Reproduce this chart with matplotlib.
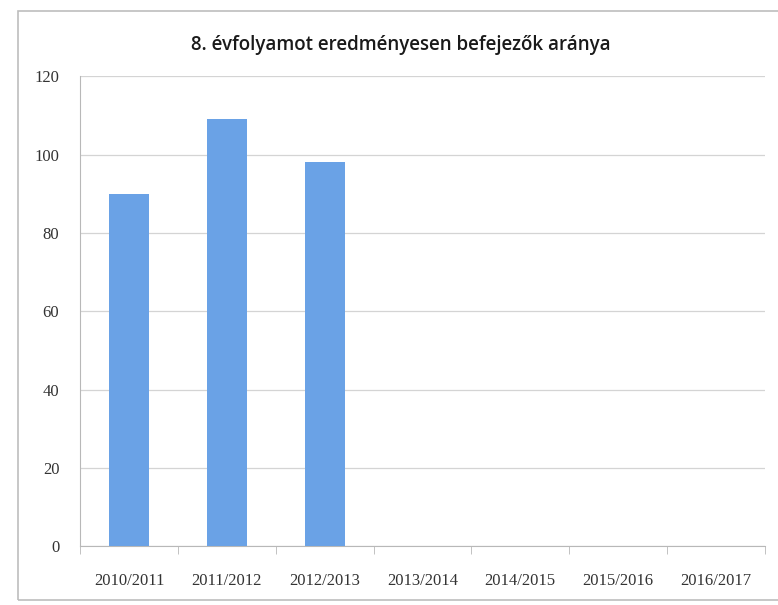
import matplotlib
matplotlib.use('Agg')
import matplotlib.pyplot as plt
from matplotlib.patches import Rectangle

# data
years = ['2010/2011', '2011/2012', '2012/2013', '2013/2014',
         '2014/2015', '2015/2016', '2016/2017']
values = [90, 109, 98, 0, 0, 0, 0]
title = '8. évfolyamot eredményesen befejezők aránya'

fig = plt.figure(figsize=(7.78, 6.05), dpi=100)
ax = fig.add_axes([0.103, 0.097, 0.88, 0.777])

# frame around the whole chart
fig.patches.append(Rectangle((0.023, 0.008), 0.99, 0.974, transform=fig.transFigure,
                             fill=False, edgecolor='#bdbdbd', linewidth=1.2))

x = list(range(len(years)))
ax.bar(x, values, width=0.41, color='#6aa2e6', zorder=3)

ax.set_ylim(0, 120)
ax.set_yticks(range(0, 121, 20))
ax.set_xlim(-0.5, len(years) - 0.5)
ax.set_xticks(x)
ax.set_xticklabels(years)
ax.grid(axis='y', color='#d4d4d4', linewidth=0.9, zorder=0)

for s in ['top', 'right']:
    ax.spines[s].set_visible(False)
ax.spines['left'].set_color('#b8b8b8')
ax.spines['bottom'].set_color('#b8b8b8')

ax.tick_params(axis='y', length=0, pad=15, labelsize=12, labelcolor='#333333')
ax.tick_params(axis='x', length=0, pad=19, labelsize=12, labelcolor='#333333')
for lab in ax.get_xticklabels() + ax.get_yticklabels():
    lab.set_family('Liberation Serif')

# tick marks between categories
ax.set_xticks([i + 0.5 for i in range(-1, len(years))], minor=True)
ax.tick_params(axis='x', which='minor', length=6, color='#b8b8b8', direction='out')

fig.text(0.515, 0.925, title, ha='center', va='center', fontsize=13.5,
         family='Open Sans', weight='semibold', color='#1a1a1a')

fig.savefig('out.png')
